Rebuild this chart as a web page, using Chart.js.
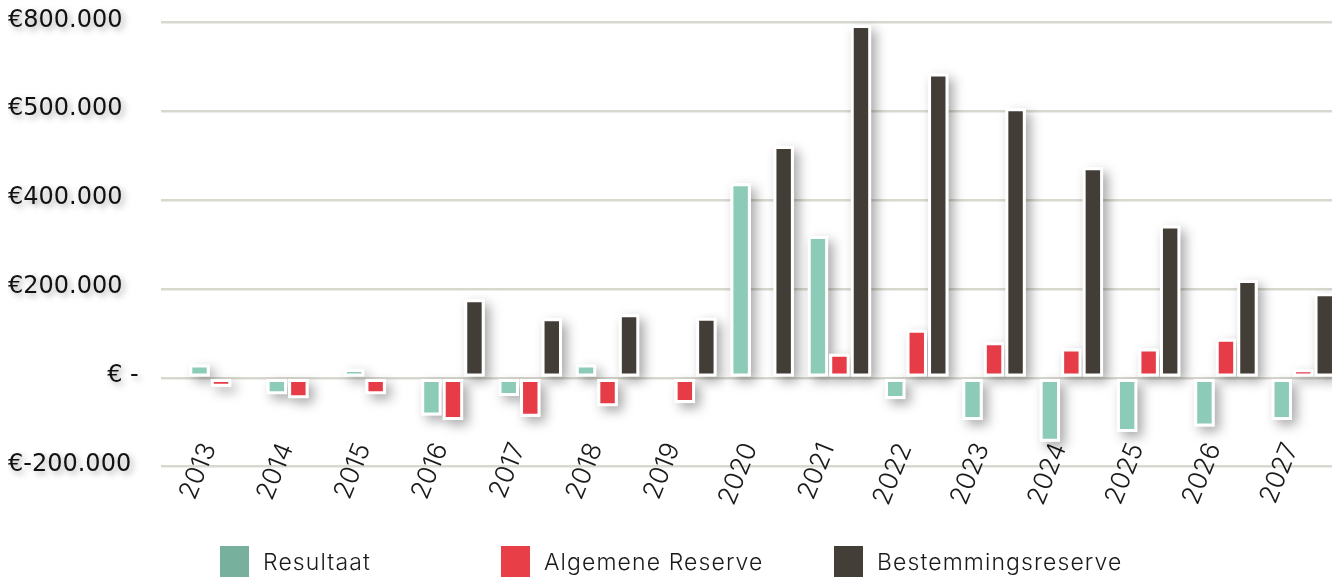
<!DOCTYPE html>
<html>
<head>
<meta charset="utf-8">
<script src="https://cdn.jsdelivr.net/npm/chart.js@4.4.1/dist/chart.umd.min.js"></script>
<style>
html, body { margin:0; padding:0; background:#fff; overflow:hidden; width:1332px; height:577px; }
#wrap { position:relative; width:1332px; height:577px; overflow:hidden; }
#c { position:absolute; left:0; top:0; }
#legend { position:absolute; left:0; top:0; width:1332px; height:577px; pointer-events:none;
  font-family: Inter, "Open Sans", sans-serif; font-size:23px; font-weight:350; letter-spacing:1.1px; color:#1a1a1a; }
.item { position:absolute; top:546px; height:31px; display:flex; align-items:center; white-space:nowrap; }
.item:nth-child(1) { left:220px; }
.item:nth-child(2) { left:501px; }
.item:nth-child(3) { left:834px; }
.box { width:29px; height:31px; margin-right:14px; }
</style>
</head>
<body>
<div id="wrap">
  <canvas id="c" width="1350" height="577"></canvas>
  <div id="legend"></div>
</div>
<script>
const categories = ['2013','2014','2015','2016','2017','2018','2019','2020','2021','2022','2023','2024','2025','2026','2027'];
const resultaat          = [30000, -37000, 20000, -85000, -41000, 30000, 0, 438000, 319000, -48000, -95000, -144000, -122000, -110000, -95000];
const algemeneReserve    = [-20000, -46000, -37000, -95000, -88000, -64000, -57000, 0, 54000, 108000, 80000, 66000, 66000, 88000, 19000];
const bestemmingsreserve = [0, 0, 0, 177000, 134000, 143000, 135000, 522000, 794000, 685000, 607000, 474000, 343000, 220000, 190000];
const seriesNames = ['Resultaat', 'Algemene Reserve', 'Bestemmingsreserve'];
const barColors = ['#8ccbb7', '#e63c47', '#433d37'];
const legendColors = ['#77b09c', '#e83e48', '#433e38'];
const yTickValues = [-200000, 0, 200000, 400000, 600000, 800000];
const yTickLabels = ['€-200.000', '€ -', '€200.000', '€400.000', '€500.000', '€800.000'];

const barShadow = {
  id: 'barShadow',
  beforeDatasetsDraw(chart) {
    const ctx = chart.ctx;
    ctx.save();
    ctx.shadowColor = 'rgba(0,0,0,0.34)';
    ctx.shadowBlur = 12;
    ctx.shadowOffsetX = 5;
    ctx.shadowOffsetY = 5;
    ctx.fillStyle = '#ffffff';
    chart.data.datasets.forEach((ds, i) => {
      const meta = chart.getDatasetMeta(i);
      meta.data.forEach(el => {
        const p = el.getProps(['x', 'y', 'base', 'width'], true);
        const top = Math.min(p.y, p.base);
        const h = Math.abs(p.base - p.y);
        if (h < 0.5) return;
        ctx.fillRect(p.x - p.width / 2, top, p.width, h);
      });
    });
    ctx.restore();
  }
};

const scalePatch = {
  id: 'scalePatch',
  beforeDraw(chart) {
    const y = chart.scales.y;
    if (y && !y._shadowPatched) {
      const orig = y.drawLabels;
      y.drawLabels = function (area) {
        const ctx = this.ctx;
        ctx.save();
        ctx.shadowColor = 'rgba(0,0,0,0.35)';
        ctx.shadowBlur = 6;
        ctx.shadowOffsetX = 3;
        ctx.shadowOffsetY = 3;
        orig.call(this, area);
        ctx.restore();
      };
      y._shadowPatched = true;
    }
    const x = chart.scales.x;
    if (x && !x._clipPatched) {
      x._computeLabelArea = function () { return undefined; };
      x._clipPatched = true;
    }
  }
};

const datasets = [resultaat, algemeneReserve, bestemmingsreserve].map((vals, i) => ({
  label: seriesNames[i],
  data: vals,
  backgroundColor: barColors[i],
  borderColor: '#ffffff',
  borderWidth: 3,
  borderSkipped: false,
  categoryPercentage: 0.835,
  barPercentage: 0.95
}));

new Chart(document.getElementById('c'), {
  type: 'bar',
  data: { labels: categories, datasets },
  plugins: [barShadow, scalePatch],
  options: {
    responsive: false,
    animation: false,
    layout: { padding: { top: 22.4, left: 8, right: 8.1, bottom: 0 } },
    plugins: { legend: { display: false }, tooltip: { enabled: false } },
    scales: {
      x: {
        grid: { display: false },
        border: { display: false },
        ticks: {
          autoSkip: false,
          minRotation: 68,
          maxRotation: 68,
          padding: -36,
          labelOffset: -12,
          color: '#1a1a1a',
          font: { family: 'Inter', size: 26, weight: 300 }
        },
        afterFit(scale) { scale.height = 110.4; }
      },
      y: {
        min: -200000,
        max: 800000,
        border: { display: false },
        grid: { color: '#d8d8cf', lineWidth: 2.5, tickLength: 21.4, drawTicks: true },
        ticks: {
          stepSize: 200000,
          crossAlign: 'far',
          padding: 6,
          labelOffset: -2,
          color: '#111',
          font: { family: 'DejaVu Sans', size: 24 },
          callback(value) {
            const idx = yTickValues.indexOf(value);
            if (idx < 0) return '';
            const lbl = yTickLabels[idx];
            return value === 0 ? ' '.repeat(13) + lbl : lbl;
          }
        },
        afterFit(scale) { scale.width = 174.4; }
      }
    }
  }
});

const legendEl = document.getElementById('legend');
seriesNames.forEach((name, i) => {
  const item = document.createElement('div');
  item.className = 'item';
  const box = document.createElement('div');
  box.className = 'box';
  box.style.background = legendColors[i];
  const txt = document.createElement('span');
  txt.textContent = name;
  item.appendChild(box);
  item.appendChild(txt);
  legendEl.appendChild(item);
});
</script>
</body>
</html>
